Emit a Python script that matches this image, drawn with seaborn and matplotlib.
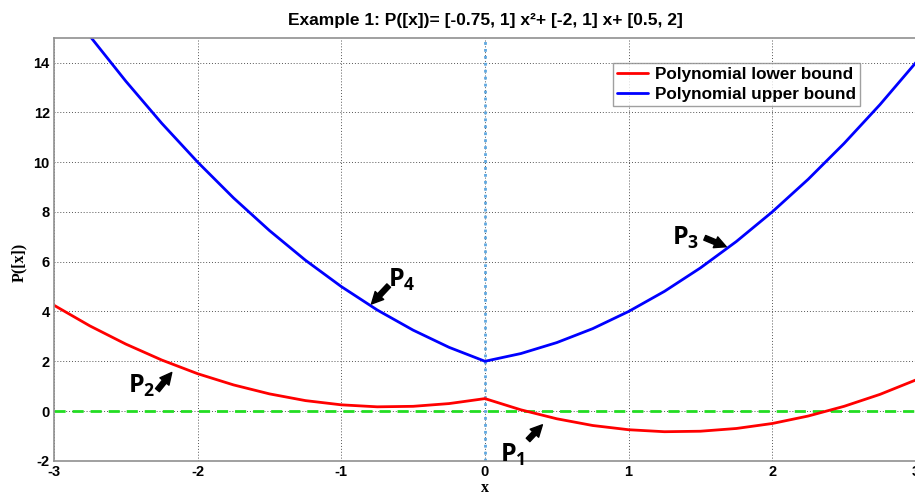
import numpy as np
import pandas as pd
import seaborn as sns
import matplotlib.pyplot as plt

# values (step 0.25)
x_vals = [-3, -2.75, -2.5, -2.25, -2, -1.75, -1.5, -1.25, -1, -0.75, -0.5, -0.25, 0,
          0.25, 0.5, 0.75, 1, 1.25, 1.5, 1.75, 2, 2.25, 2.5, 2.75, 3]
lower_vals = [4.25, 3.42, 2.69, 2.05, 1.5, 1.05, 0.69, 0.42, 0.25, 0.17, 0.19, 0.30, 0.5,
              0.05, -0.31, -0.58, -0.75, -0.83, -0.81, -0.70, -0.5, -0.20, 0.19, 0.67, 1.25]
upper_vals = [17.0, 15.06, 13.25, 11.56, 10.0, 8.56, 7.25, 6.06, 5.0, 4.06, 3.25, 2.56, 2.0,
              2.31, 2.75, 3.31, 4.0, 4.81, 5.75, 6.81, 8.0, 9.31, 10.75, 12.31, 14.0]
series_names = ["Polynomial lower bound", "Polynomial upper bound"]
title_text = "Example 1: P([x])= [-0.75, 1] x²+ [-2, 1] x+ [0.5, 2]"

df = pd.DataFrame({
    "x": x_vals * 2,
    "P": lower_vals + upper_vals,
    "bound": [series_names[0]] * len(x_vals) + [series_names[1]] * len(x_vals),
})

sns.set_style("white")
plt.rcParams['font.family'] = ['Liberation Sans', 'DejaVu Sans']
plt.rcParams['axes.unicode_minus'] = False
plt.rcParams['text.color'] = 'black'
plt.rcParams['axes.labelcolor'] = 'black'
plt.rcParams['xtick.color'] = 'black'
plt.rcParams['ytick.color'] = 'black'
plt.rcParams['mathtext.fontset'] = 'custom'
plt.rcParams['mathtext.bf'] = 'Open Sans:bold'
plt.rcParams['mathtext.rm'] = 'Open Sans:bold'

fig = plt.figure(figsize=(9.15, 4.95), dpi=100)
ax = fig.add_axes([0.059, 0.069, 0.942, 0.855])

ax.grid(True, color="#555555", linestyle=(0, (1, 2)), linewidth=0.7)
ax.set_axisbelow(True)

# reference lines
ax.axhline(0, color="#22dd22", linestyle=(0, (4, 2.5)), linewidth=2, zorder=1)
ax.axvline(0, color="#5fa8e0", linestyle=(0, (1, 1.5)), linewidth=2, zorder=1)

sns.lineplot(data=df, x="x", y="P", hue="bound", palette=["red", "blue"],
             linewidth=2, ax=ax, sort=False, legend=True)

ax.set_xlim(-3, 3)
ax.set_ylim(-2, 15)
ax.set_xticks([-3, -2, -1, 0, 1, 2, 3])
ax.set_yticks(range(-2, 15, 2))
for lab in ax.get_xticklabels() + ax.get_yticklabels():
    lab.set_fontweight("bold")
    lab.set_fontsize(10.5)
ax.tick_params(direction="in", length=3, color="#808080", pad=3)

for s in ax.spines.values():
    s.set_color("#909090")
    s.set_linewidth(1.2)

ax.set_title(title_text, fontsize=12.5, fontweight="bold", pad=9)
ax.set_xlabel("x", family="Liberation Serif", fontweight="bold", fontsize=11.5, labelpad=1)
ax.set_ylabel("P([x])", family="Liberation Serif", fontweight="bold", fontsize=11.5)
ax.yaxis.set_label_coords(-0.031, 0.47)

leg = ax.legend(loc="upper right", bbox_to_anchor=(0.945, 0.96), frameon=True,
                fancybox=False, edgecolor="#888888", handlelength=1.8,
                prop={"weight": "bold", "size": 12.3}, borderpad=0.25,
                labelspacing=0.25, handletextpad=0.4)
leg.get_frame().set_linewidth(1)

# P labels and arrows
arrow_kw = dict(arrowstyle="simple,head_length=0.7,head_width=0.7,tail_width=0.3",
                color="black", mutation_scale=12, shrinkA=0, shrinkB=0)
labels = [(r"$\mathbf{P_1}$", (0.19, -1.75), (0.30, -1.16), (0.40, -0.55)),
          (r"$\mathbf{P_2}$", (-2.39, 1.0), (-2.28, 0.84), (-2.18, 1.55)),
          (r"$\mathbf{P_3}$", (1.40, 6.95), (1.53, 6.96), (1.68, 6.6)),
          (r"$\mathbf{P_4}$", (-0.58, 5.25), (-0.67, 5.04), (-0.79, 4.3))]
for txt, tpos, tail, head in labels:
    ax.text(tpos[0], tpos[1], txt, fontsize=18, ha="center", va="center")
    ax.annotate("", xy=head, xytext=tail, arrowprops=arrow_kw)

fig.savefig("out.png", dpi=100)
